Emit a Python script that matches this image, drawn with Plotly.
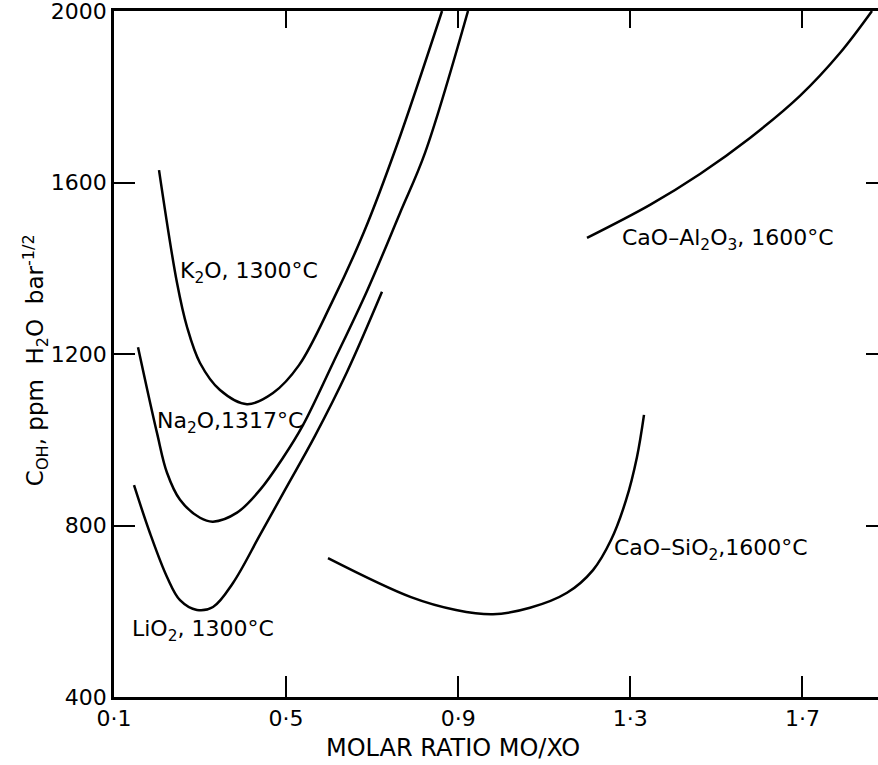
import plotly.graph_objects as go

# ---- data ----
k2o_x = [0.2046, 0.2464, 0.2697, 0.2999, 0.3463, 0.4091, 0.4695, 0.5300, 0.6067, 0.6811, 0.7578, 0.8623]
k2o_y = [1629, 1366, 1263, 1179, 1116, 1083, 1109, 1174, 1321, 1485, 1688, 2000]

na2o_x = [0.1558, 0.1999, 0.2232, 0.2534, 0.2999, 0.3301, 0.3859, 0.4393, 0.4928, 0.5392, 0.6090, 0.6880, 0.7647, 0.8228, 0.9227]
na2o_y = [1216, 1016, 923, 860, 818, 809, 830, 883, 958, 1034, 1179, 1347, 1529, 1669, 2000]

li2o_x = [0.1465, 0.1837, 0.2232, 0.2534, 0.2929, 0.3301, 0.3765, 0.4393, 0.4974, 0.5671, 0.6415, 0.7228]
li2o_y = [894, 782, 680, 626, 603, 610, 666, 778, 883, 1009, 1158, 1345]

casio_x = [0.5973, 0.7902, 0.8948, 0.9808, 1.0668, 1.1528, 1.2132, 1.2550, 1.2899, 1.3154, 1.3317]
casio_y = [724, 633, 603, 593, 608, 643, 696, 766, 859, 960, 1058]

caal_x = [1.1992, 1.3456, 1.4618, 1.5780, 1.6941, 1.7871, 1.8615]
caal_y = [1471, 1548, 1620, 1704, 1802, 1902, 2000]

x_ticks = [0.1, 0.5, 0.9, 1.3, 1.7]
x_tick_text = ["0·1", "0·5", "0·9", "1·3", "1·7"]
y_ticks = [400, 800, 1200, 1600, 2000]
y_tick_text = ["400", "800", "1200", "1600", "2000"]

labels = [
    ("K<sub>2</sub>O, 1300°C", 0.2487, 1391),
    ("Na<sub>2</sub>O,1317°C", 0.1953, 1041),
    ("LiO<sub>2</sub>, 1300°C", 0.1372, 556),
    ("CaO–SiO<sub>2</sub>,1600°C", 1.2573, 743),
    ("CaO–Al<sub>2</sub>O<sub>3</sub>, 1600°C", 1.2760, 1466),
]

FONT = "DejaVu Sans"
X_RANGE = [0.1, 1.8755]
Y_RANGE = [400, 2000]

fig = go.Figure()
for xs, ys in [(k2o_x, k2o_y), (na2o_x, na2o_y), (li2o_x, li2o_y),
               (casio_x, casio_y), (caal_x, caal_y)]:
    fig.add_trace(go.Scatter(x=xs, y=ys, mode="lines",
                             line=dict(color="black", width=2.5, shape="spline", smoothing=1.0),
                             showlegend=False, hoverinfo="skip", cliponaxis=True))

# invisible trace to activate mirrored axes
fig.add_trace(go.Scatter(x=[None], y=[None], xaxis="x2", yaxis="y2",
                         mode="lines", showlegend=False, hoverinfo="skip"))

for text, x, y in labels:
    fig.add_annotation(x=x, y=y, text=text, showarrow=False, xanchor="left",
                       yanchor="middle", font=dict(family=FONT, size=22, color="black"))

fig.add_annotation(x=0.888, xref="x", y=-0.0743, yref="paper", text="MOLAR RATIO MO/XO",
                   showarrow=False, xanchor="center", yanchor="middle",
                   font=dict(family=FONT, size=24, color="black"))
fig.add_annotation(x=-0.1034, xref="paper", y=0.491, yref="paper",
                   text="C<sub>OH</sub>, ppm  H<sub>2</sub>O  bar<sup>-1/2</sup>",
                   textangle=-90, showarrow=False, xanchor="center", yanchor="middle",
                   font=dict(family=FONT, size=23, color="black"))

axis_common = dict(showgrid=False, zeroline=False, ticks="inside", tickcolor="black",
                   tickwidth=2.4, linecolor="black", linewidth=2.6,
                   ticklabeloverflow="allow",
                   tickfont=dict(family=FONT, size=22, color="black"))

fig.update_layout(
    width=878, height=765,
    margin=dict(l=114, r=0, t=11, b=68),
    paper_bgcolor="white", plot_bgcolor="white",
    xaxis=dict(range=X_RANGE, tickvals=x_ticks, ticktext=x_tick_text, showline=True,
               ticklen=21, **axis_common),
    yaxis=dict(range=Y_RANGE, tickvals=y_ticks, ticktext=y_tick_text, showline=True,
               ticklen=21, **axis_common),
    xaxis2=dict(range=X_RANGE, overlaying="x", side="top", anchor="y",
                tickvals=x_ticks[1:], showticklabels=False, showline=True,
                ticklen=17, **axis_common),
    yaxis2=dict(range=Y_RANGE, overlaying="y", side="right", anchor="x",
                tickvals=y_ticks[1:-1], showticklabels=False, showline=False,
                ticklen=12, **axis_common),
)

fig.write_html("out.html")
